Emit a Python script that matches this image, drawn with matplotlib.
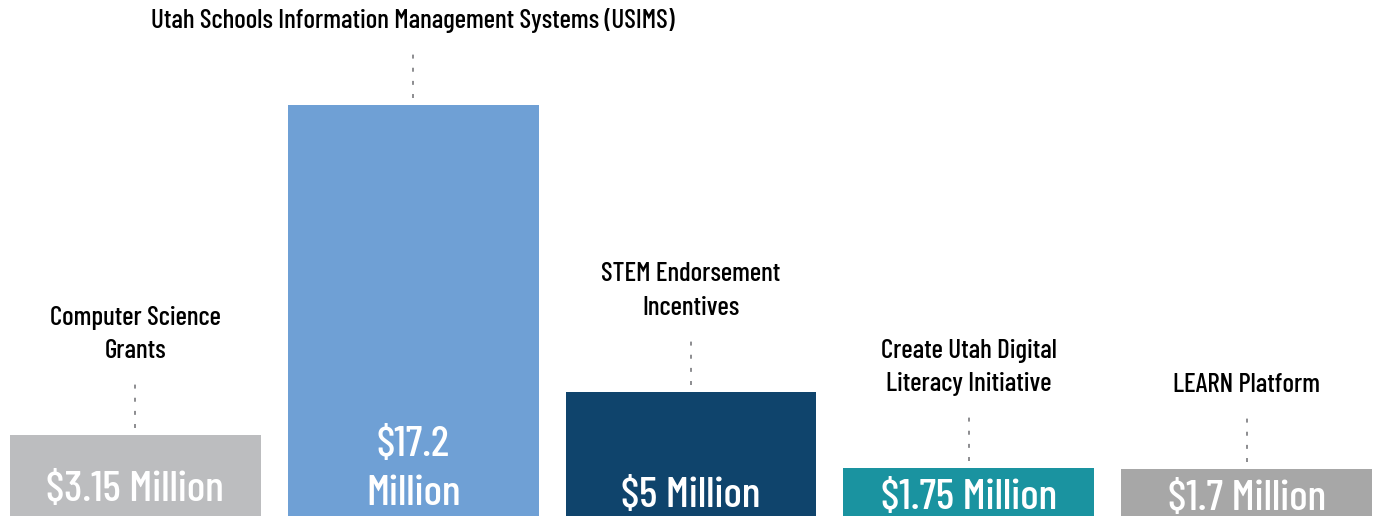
import matplotlib
matplotlib.use("Agg")
import matplotlib.pyplot as plt

categories = ["Computer Science\nGrants",
              "Utah Schools Information Management Systems (USIMS)",
              "STEM Endorsement\nIncentives",
              "Create Utah Digital\nLiteracy Initiative",
              "LEARN Platform"]
values = [3.15, 17.2, 5.0, 1.75, 1.7]
value_labels = ["$3.15 Million", "$17.2\nMillion", "$5 Million", "$1.75 Million", "$1.7 Million"]
colors = ["#bcbdbf", "#6fa0d5", "#0f446c", "#1a93a0", "#a7a7a7"]
# baseline of the value label, pixels above the bottom edge (style)
value_baseline_px = [15, 11, 9, 7, 6]

FONT = ['Barlow Condensed', 'DejaVu Sans']
plt.rcParams['font.family'] = FONT

W, H = 1375, 516
fig = plt.figure(figsize=(W / 100, H / 100), dpi=100)
ax = fig.add_axes([0, 0, 1, 1])
BASE = -0.29
YTOP = 21.69
ax.set_xlim(-0.487, 4.462)
ax.set_ylim(BASE, YTOP)
ax.axis('off')
ppu = H / (YTOP - BASE)  # pixels per data unit

x = list(range(len(values)))
ax.bar(x, [v - BASE for v in values], bottom=BASE, width=0.903, color=colors)

for xi, v, lab, vl, bpx in zip(x, values, categories, value_labels, value_baseline_px):
    ax.plot([xi, xi], [v + 7 / ppu, v + 55 / ppu], color="#6d6e71", lw=1.1,
            linestyle=(0, (2.6, 6.0)), dash_capstyle='butt')
    ax.annotate(lab, xy=(xi, v), xytext=(0, 77), textcoords='offset pixels',
                ha='center', va='baseline', fontsize=19.5, fontweight=500,
                color='black', linespacing=1.5)
    ax.annotate(vl, xy=(xi, BASE), xytext=(0, bpx), textcoords='offset pixels',
                ha='center', va='baseline', color='white', fontsize=31,
                fontweight=500, linespacing=1.35)

fig.savefig("out.png", dpi=100)
